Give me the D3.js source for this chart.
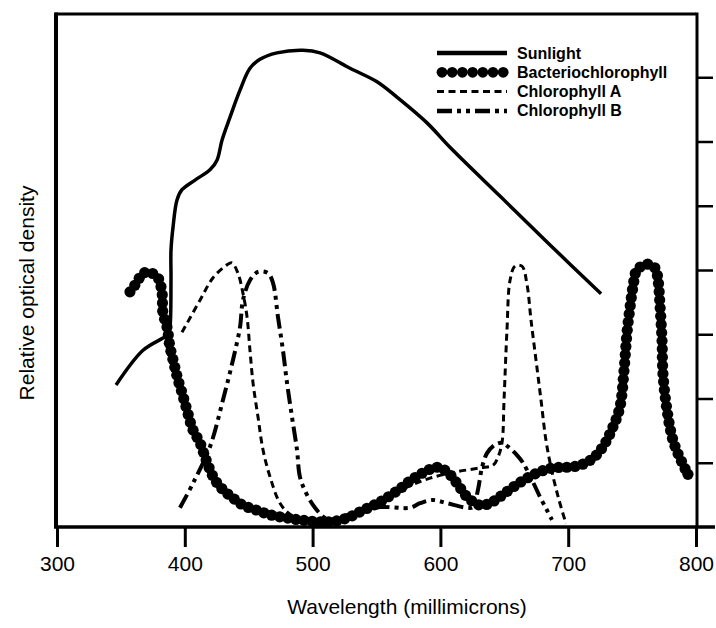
<!DOCTYPE html>
<html>
<head>
<meta charset="utf-8">
<script src="https://cdn.jsdelivr.net/npm/d3@7"></script>
<style>
  html, body { margin: 0; padding: 0; background: #fff; }
  svg { display: block; font-family: "Liberation Sans", Arial, Helvetica, sans-serif; }
</style>
</head>
<body>
<svg id="chart" width="716" height="628"></svg>
<script>
// ---- data (wavelength in millimicrons, relative optical density) ----
const xTicks = [300, 400, 500, 600, 700, 800];
const yTicks = [1, 2, 3, 4, 5, 6, 7];
const seriesNames = ["Sunlight", "Bacteriochlorophyll", "Chlorophyll A", "Chlorophyll B"];

const sunlight = [
  [346.2, 2.21], [367.3, 2.75], [382.9, 2.94], [386.9, 2.99], [388.4, 3.11],
  [389.2, 3.84], [389.2, 4.31], [390.8, 4.67], [393.9, 5.09], [397.8, 5.25],
  [408.0, 5.40], [419.7, 5.56], [425.2, 5.71], [429.1, 6.02], [435.4, 6.38],
  [443.2, 6.80], [451.0, 7.14], [458.8, 7.28], [472.1, 7.38], [492.5, 7.42],
  [505.8, 7.38], [529.3, 7.14], [550.4, 6.93], [566.0, 6.69], [589.5, 6.29],
  [607.5, 5.91], [646.6, 5.15], [685.8, 4.39], [725.7, 3.63]
];

const bacteriochlorophyll = [
  [357.1, 3.66], [362.6, 3.81], [367.3, 3.95], [374.3, 3.95], [379.0, 3.88],
  [382.2, 3.64], [382.9, 3.33], [386.1, 3.11], [388.4, 2.80], [390.8, 2.60],
  [394.7, 2.29], [397.8, 2.09], [401.7, 1.82], [406.4, 1.51], [411.9, 1.31],
  [415.8, 1.09], [419.7, 0.89], [423.6, 0.73], [429.9, 0.58], [437.7, 0.45],
  [445.5, 0.34], [456.5, 0.26], [466.7, 0.19], [480.0, 0.14], [490.1, 0.11],
  [513.6, 0.08], [526.9, 0.14], [539.4, 0.26], [552.7, 0.39], [566.0, 0.56],
  [578.6, 0.75], [591.9, 0.90], [597.3, 0.93], [605.2, 0.86], [613.0, 0.68],
  [620.8, 0.47], [631.0, 0.34], [638.8, 0.37], [646.6, 0.47], [656.8, 0.62],
  [667.8, 0.76], [677.9, 0.86], [688.1, 0.92], [699.1, 0.93], [709.2, 0.96],
  [719.4, 1.07], [727.2, 1.25], [735.1, 1.56], [740.5, 1.87], [743.7, 2.44],
  [746.0, 3.02], [748.4, 3.42], [750.7, 3.74], [753.8, 4.00], [761.7, 4.09],
  [768.0, 4.03], [770.3, 3.84], [771.8, 3.46], [773.4, 2.91], [774.2, 2.37],
  [777.3, 1.82], [782.0, 1.35], [787.5, 1.07], [793.7, 0.82]
];

const chlorophyllA = [
  [397.8, 3.03], [411.9, 3.53], [422.1, 3.88], [433.0, 4.08], [436.9, 4.11],
  [441.6, 3.95], [445.5, 3.64], [448.7, 3.27], [451.0, 2.75], [453.4, 2.24],
  [457.3, 1.71], [461.2, 1.20], [466.7, 0.78], [474.5, 0.37], [482.3, 0.20],
  [494.1, 0.11], [505.8, 0.09], [521.4, 0.16], [537.1, 0.26], [552.7, 0.39],
  [573.9, 0.62], [591.9, 0.76], [613.0, 0.86], [631.0, 0.92], [641.2, 0.96],
  [645.1, 1.09], [648.2, 1.31], [649.8, 1.98], [652.1, 3.07], [654.5, 3.84],
  [658.4, 4.06], [663.8, 4.06], [667.8, 3.77], [670.9, 3.22], [674.8, 2.60],
  [678.7, 1.98], [682.6, 1.35], [687.3, 0.86], [692.8, 0.42], [698.3, 0.05]
];

const chlorophyllB = [
  [396.2, 0.30], [406.4, 0.68], [419.7, 1.25], [429.9, 1.98], [437.7, 2.60],
  [443.2, 3.11], [445.5, 3.53], [451.0, 3.84], [457.3, 3.97], [465.1, 3.95],
  [469.0, 3.80], [472.9, 3.27], [476.8, 2.75], [480.0, 2.24], [483.9, 1.71],
  [487.8, 1.20], [490.1, 0.78], [495.6, 0.50], [501.9, 0.30], [509.7, 0.14],
  [517.5, 0.09], [529.3, 0.17], [541.0, 0.25], [552.7, 0.31], [576.2, 0.30],
  [584.0, 0.37], [594.2, 0.42], [605.2, 0.37], [620.8, 0.30], [625.5, 0.31],
  [629.4, 0.58], [632.6, 0.93], [636.5, 1.15], [642.7, 1.28], [648.2, 1.31],
  [652.9, 1.25], [659.9, 1.12], [664.6, 1.00], [671.7, 0.73], [677.9, 0.47],
  [683.4, 0.26], [687.3, 0.11]
];

// ---- layout ----
const svg = d3.select("#chart");
const x = d3.scaleLinear().domain([300, 800]).range([57, 696]);
const y = d3.scaleLinear().domain([0, 8]).range([527, 13]);

const line = d3.line()
  .x(d => x(d[0])).y(d => y(d[1]))
  .curve(d3.curveCatmullRom.alpha(0.5));

// frame: top & left
svg.append("line").attr("x1", x(300) - 2).attr("x2", x(800)).attr("y1", 14).attr("y2", 14)
  .attr("stroke", "#000").attr("stroke-width", 3);
svg.append("line").attr("x1", x(300) - 1).attr("x2", x(300) - 1).attr("y1", 12.5).attr("y2", y(0))
  .attr("stroke", "#000").attr("stroke-width", 4);

// bottom axis
const xAxis = d3.axisBottom(x).tickValues(xTicks).tickSize(20).tickPadding(9).tickSizeOuter(0);
const gx = svg.append("g").attr("transform", `translate(0,${y(0)})`).call(xAxis);
gx.select(".domain").remove();
gx.selectAll(".tick line").attr("stroke", "#000").attr("stroke-width", 3);
gx.selectAll(".tick text").attr("font-size", 21).attr("fill", "#000")
  .attr("font-family", "'Liberation Sans', Arial, sans-serif");
svg.append("line").attr("x1", x(300) - 3).attr("x2", 715).attr("y1", y(0)).attr("y2", y(0))
  .attr("stroke", "#000").attr("stroke-width", 3.5);

// right axis
const yAxis = d3.axisRight(y).tickValues(yTicks).tickSize(16).tickFormat("").tickSizeOuter(0);
const gy = svg.append("g").attr("transform", `translate(${x(800) + 1},0)`).call(yAxis);
gy.select(".domain").remove();
gy.selectAll(".tick line").attr("stroke", "#000").attr("stroke-width", 2.5);
svg.append("line").attr("x1", x(800) + 1).attr("x2", x(800) + 1).attr("y1", 12.5).attr("y2", y(0))
  .attr("stroke", "#000").attr("stroke-width", 3);

// axis titles
svg.append("text").attr("x", 407).attr("y", 614).attr("text-anchor", "middle")
  .attr("font-size", 21).text("Wavelength (millimicrons)");
svg.append("text").attr("transform", "translate(34,293) rotate(-90)").attr("text-anchor", "middle")
  .attr("font-size", 21).text("Relative optical density");

// ---- series ----
const styles = {
  "Sunlight": { width: 3.5, dash: null },
  "Chlorophyll A": { width: 3, dash: "7,4.5" },
  "Chlorophyll B": { width: 4, dash: "15,5,4,5,4,5" }
};

svg.append("path").datum(chlorophyllA).attr("d", line)
  .attr("fill", "none").attr("stroke", "#000")
  .attr("stroke-width", styles["Chlorophyll A"].width)
  .attr("stroke-dasharray", styles["Chlorophyll A"].dash);

svg.append("path").datum(chlorophyllB).attr("d", line)
  .attr("fill", "none").attr("stroke", "#000")
  .attr("stroke-width", styles["Chlorophyll B"].width)
  .attr("stroke-dasharray", styles["Chlorophyll B"].dash);

svg.append("path").datum(sunlight).attr("d", line)
  .attr("fill", "none").attr("stroke", "#000")
  .attr("stroke-width", styles["Sunlight"].width).attr("stroke-linejoin", "round");

// bacteriochlorophyll: beaded line (dots placed along the library-built path)
const bPath = svg.append("path").datum(bacteriochlorophyll).attr("d", line)
  .attr("fill", "none").attr("stroke", "none");
const node = bPath.node();
const total = node.getTotalLength();
const beads = d3.range(0, total, 8.2).concat([total]).map(l => node.getPointAtLength(l));
svg.append("g").selectAll("circle").data(beads).join("circle")
  .attr("cx", p => p.x).attr("cy", p => p.y).attr("r", 5.6).attr("fill", "#000");

// ---- legend ----
const legendX0 = 437, legendX1 = 507, legendY0 = 53, legendStep = 19.3;
const lg = svg.append("g");
seriesNames.forEach((name, i) => {
  const ly = legendY0 + i * legendStep;
  if (name === "Bacteriochlorophyll") {
    lg.append("g").selectAll("circle").data(d3.range(7)).join("circle")
      .attr("cx", k => legendX0 + 5 + k * 10.2).attr("cy", ly).attr("r", 5.4).attr("fill", "#000");
  } else {
    const st = styles[name];
    lg.append("line").attr("x1", legendX0).attr("x2", legendX1).attr("y1", ly).attr("y2", ly)
      .attr("stroke", "#000").attr("stroke-width", name === "Chlorophyll A" ? 3 : 4.5)
      .attr("stroke-dasharray", st.dash);
  }
  lg.append("text").attr("x", 517).attr("y", ly + 5.5)
    .attr("font-size", 16).attr("font-weight", "bold").text(name);
});
</script>
</body>
</html>
